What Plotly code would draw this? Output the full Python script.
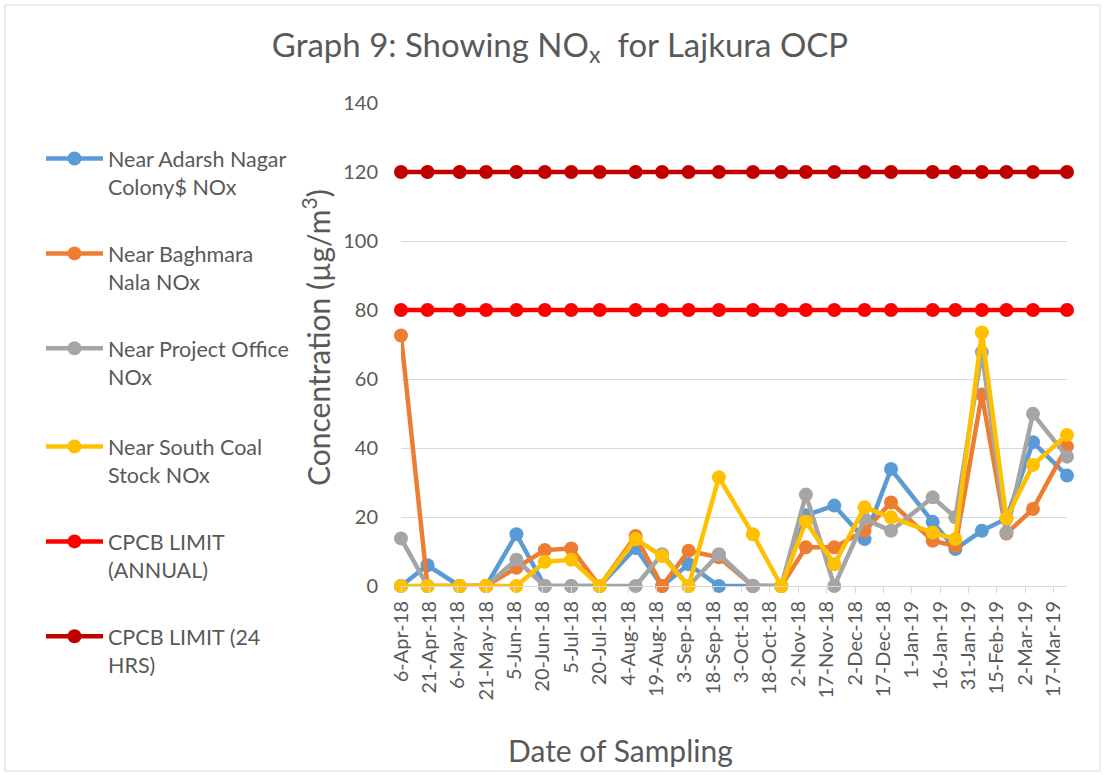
import plotly.graph_objects as go

dates = ["2018-04-06", "2018-04-20", "2018-05-07", "2018-05-21", "2018-06-06", "2018-06-21",
         "2018-07-05", "2018-07-20", "2018-08-08", "2018-08-22", "2018-09-05", "2018-09-21",
         "2018-10-09", "2018-10-24", "2018-11-06", "2018-11-21", "2018-12-07", "2018-12-21",
         "2019-01-12", "2019-01-24", "2019-02-07", "2019-02-20", "2019-03-06", "2019-03-24"]

adarsh = [0, 6, 0, 0, 15, 0, 0, 0, 11, 0, 6.3, 0, 0, 0, 20.5, 23.3, 13.6, 33.9, 18.6, 10.7, 16, 19.5, 41.7, 32]
baghmara = [72.6, 0, 0, 0, 5.3, 10.4, 10.9, 0, 14.5, 0, 10.2, 8.3, 0, 0, 11.2, 11.2, 16, 24.2, 13.1, 11.6, 55.5, 15.2, 22.3, 40.4]
project = [13.8, 0, 0, 0, 7.6, 0, 0, 0, 0, 9.2, 0, 9.2, 0, 0, 26.5, 0, 19.4, 16, 25.7, 19.9, 67.8, 15.5, 49.9, 37.5]
south = [0, 0, 0, 0, 0, 7.0, 7.6, 0, 13.6, 8.7, 0, 31.5, 15.0, 0, 18.7, 6.3, 22.8, 19.9, 15.5, 13.6, 73.5, 19.6, 35.1, 43.8]
limit_annual = [80] * len(dates)
limit_24h = [120] * len(dates)

series = [
    ("Near Adarsh Nagar<br>Colony$ NOx", adarsh, "#5B9BD5", "legend"),
    ("Near Baghmara<br>Nala NOx", baghmara, "#ED7D31", "legend"),
    ("Near Project Office<br>NOx", project, "#A5A5A5", "legend"),
    ("Near South Coal<br>Stock NOx", south, "#FFC000", "legend2"),
    ("CPCB LIMIT<br>(ANNUAL)", limit_annual, "#FF0000", "legend2"),
    ("CPCB LIMIT (24<br>HRS)", limit_24h, "#C00000", "legend2"),
]

FONT = "Lato, 'Open Sans', sans-serif"
TXT = "#595959"
GRID = "#D9D9D9"

fig = go.Figure()
for i, (name, vals, col, leg) in enumerate(series):
    fig.add_trace(go.Scatter(
        x=dates, y=vals, name=name, mode="lines+markers",
        line=dict(color=col, width=4.5),
        marker=dict(color=col, size=14),
        cliponaxis=False, legendgroup=f"g{i}", legend=leg,
    ))

W, H = 1105, 775
L, R, T, B = 401, 1067, 103, 586
pw, ph = R - L, B - T


def px(x):
    return (x - L) / pw


def py(y):
    return (B - y) / ph


legend_common = dict(xanchor="left", yanchor="top",
                     font=dict(size=21.5, color=TXT, family=FONT),
                     tracegroupgap=36, valign="top", itemwidth=57,
                     bgcolor="rgba(0,0,0,0)")

fig.update_layout(
    width=W, height=H,
    margin=dict(l=L, r=W - R, t=T, b=H - B),
    paper_bgcolor="white", plot_bgcolor="white",
    font=dict(family=FONT, color=TXT),
    title=dict(text="Graph 9: Showing NO<sub>x</sub>  for Lajkura OCP",
               x=560 / W, xref="container", xanchor="center",
               y=1 - 45 / H, yref="container", yanchor="middle",
               font=dict(size=33, color=TXT, family=FONT)),
    xaxis=dict(type="date", range=[dates[0], dates[-1]],
               tick0=dates[0], dtick=15 * 86400000, tickformat="%-d-%b-%y",
               tickangle=-90, tickfont=dict(size=20, color=TXT, family=FONT),
               showgrid=False, showline=True, linecolor=GRID, linewidth=1,
               ticks="outside", ticklen=6, tickcolor=GRID, zeroline=False),
    yaxis=dict(range=[0, 140], dtick=20, showgrid=True, gridcolor=GRID, gridwidth=1,
               zeroline=False, showline=False, ticks="",
               tickfont=dict(size=20, color=TXT, family=FONT), ticklabelstandoff=22),
    legend=dict(x=px(41), y=py(138), **legend_common),
    legend2=dict(x=px(41), y=py(138 + 3 * 96), **legend_common),
    showlegend=True,
    annotations=[
        dict(text="Date of Sampling", x=px(620), y=py(750), xref="paper", yref="paper",
             showarrow=False, xanchor="center", yanchor="middle",
             font=dict(size=30, color=TXT, family=FONT)),
        dict(text="Concentration (µg/m<sup>3</sup>)", x=px(316), y=py(338), xref="paper", yref="paper",
             showarrow=False, xanchor="center", yanchor="middle", textangle=-90,
             font=dict(size=30, color=TXT, family=FONT)),
    ],
    shapes=[
        dict(type="rect", xref="paper", yref="paper", x0=px(5), x1=px(1100), y0=py(771), y1=py(5),
             line=dict(color=GRID, width=1), fillcolor="rgba(0,0,0,0)", layer="below"),
    ],
)

fig.write_html("out.html", config={"displayModeBar": False},
               post_script="document.body.style.margin='0';document.body.style.overflow='hidden';")
